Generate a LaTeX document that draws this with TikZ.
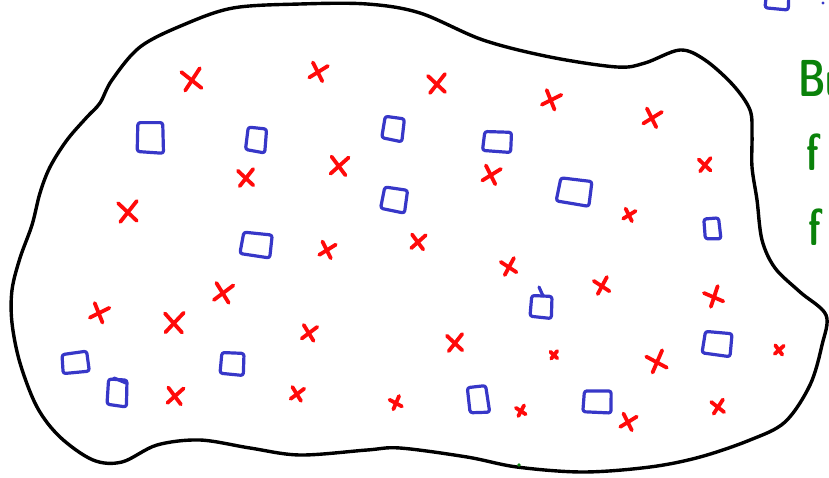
\documentclass[tikz,border=0pt]{standalone}
\definecolor{penred}{RGB}{255,10,10}
\definecolor{penblue}{RGB}{55,55,200}
\definecolor{pengreen}{RGB}{10,130,10}
\newcommand{\rx}[4]{%
  \begin{scope}[shift={(#1,#2)},rotate=#4,scale=#3/10]
    \draw[redmark] (-9,-8) -- (8,8);
    \draw[redmark] (8,-10) -- (-7,9);
  \end{scope}}
\newcommand{\bq}[5]{%
  \begin{scope}[shift={(#1,#2)},rotate=#5]
    \draw[bluemark] ({-0.42*#3},{-0.5*#4}) -- ({0.5*#3},{-0.46*#4}) -- ({0.47*#3},{0.5*#4}) -- ({-0.5*#3},{0.4*#4}) -- cycle;
  \end{scope}}
\begin{document}
\begin{tikzpicture}[x=1pt,y=-1pt,
  outline/.style={line width=3.4pt,black,line join=round},
  redmark/.style={line width=3.8pt,penred,line cap=round,line join=round},
  bluemark/.style={line width=3.2pt,penblue,line cap=round,line join=round,rounded corners=2.5pt},
  gtext/.style={text=pengreen,font=\fontsize{52}{52}\selectfont\sffamily\bfseries,inner sep=0pt,anchor=base west,xscale=0.72}]
\useasboundingbox (0,0) rectangle (829,477);
\clip (0,0) rectangle (829,477);
% outline
\draw[outline] plot[smooth cycle,tension=0.55] coordinates {
 (40,193) (50,167) (67,140) (87,117) (100,103) (112,80) (140,47) (183,25) (233,8) (300,4) (367,4) (420,13)
 (483,40) (550,57) (617,67) (645,63) (680,50) (705,60) (733,85) (750,110) (752,135) (752,167)
 (757,200) (762,240) (775,268) (800,292) (826,315) (822,345) (810,385) (785,422) (750,440)
 (700,457) (650,467) (583,472) (517,467) (467,457) (400,448) (367,450) (300,455) (250,448)
 (200,440) (157,445) (122,462) (93,460) (60,437) (37,407) (20,363) (12,323) (12,290) (20,258) (32,225)};
% red crosses
\rx{192}{80}{11}{5}
\rx{318}{72}{9}{-20}
\rx{437}{84}{10}{0}
\rx{551}{100}{9}{-25}
\rx{652}{118}{9}{-20}
\rx{705}{165}{7}{0}
\rx{246}{178}{9}{0}
\rx{339}{166}{10}{-10}
\rx{491}{175}{9}{-20}
\rx{128}{212}{11}{0}
\rx{629}{215}{6}{-20}
\rx{418}{242}{8}{-10}
\rx{327}{250}{8}{-20}
\rx{509}{267}{8}{10}
\rx{223}{293}{10}{-15}
\rx{602}{286}{8}{10}
\rx{714}{297}{9}{20}
\rx{99}{313}{9}{-25}
\rx{174}{323}{11}{-5}
\rx{309}{333}{8}{-15}
\rx{455}{343}{9}{0}
\rx{554}{355}{4}{0}
\rx{657}{362}{10}{15}
\rx{779}{350}{5}{-10}
\rx{175}{396}{9}{-10}
\rx{297}{394}{7}{-15}
\rx{396}{403}{6}{15}
\rx{521}{411}{5}{10}
\rx{628}{422}{8}{-20}
\rx{718}{407}{7}{5}
% blue squares
\bq{150}{138}{27}{32}{3}
\bq{256}{140}{20}{25}{-3}
\bq{393}{129}{21}{24}{-5}
\bq{497}{142}{29}{21}{0}
\bq{574}{192}{34}{26}{-5}
\bq{394}{200}{25}{24}{-6}
\bq{256}{245}{31}{24}{-4}
\bq{712}{229}{16}{22}{8}
\bq{541}{307}{22}{23}{0}
\draw[bluemark] (543,296) -- (539,287);
\bq{717}{344}{29}{24}{-3}
\bq{75}{363}{27}{21}{10}
\bq{117}{393}{20}{28}{0}
\draw[bluemark] (114,378) -- (126,383);
\bq{232}{364}{24}{23}{0}
\bq{478}{400}{20}{28}{10}
\bq{597}{402}{29}{23}{2}
\bq{777}{-1}{24}{22}{0}
\fill[penblue] (823,3) circle (1.6pt);
\fill[pengreen] (519,465) circle (1.8pt);
% green text (cut at the right edge, as in the reference)
\node[gtext] (bu) at (798,96) {Bu};
\node[gtext] (f1) at (806,170) {f};
\node[gtext] (f2) at (808,245) {f};
\end{tikzpicture}
\end{document}
